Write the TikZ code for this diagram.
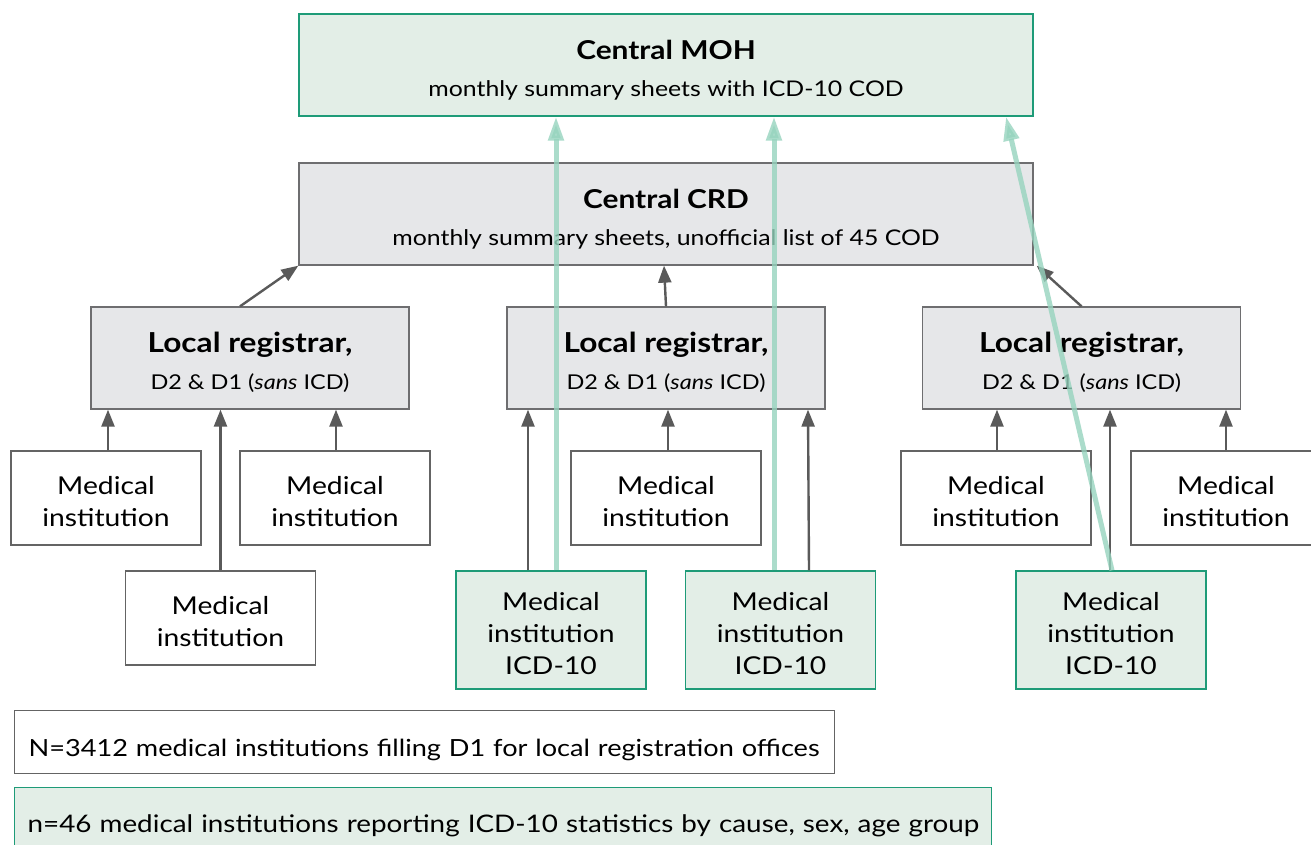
\documentclass[tikz,border=0pt]{standalone}
\usepackage{fontspec}
\setmainfont{Lato}[FakeStretch=1.15]
\usetikzlibrary{arrows.meta,calc}
\definecolor{gfill}{RGB}{227,238,231}
\definecolor{gline}{RGB}{30,155,120}
\definecolor{cfill}{RGB}{230,231,233}
\definecolor{cline}{RGB}{110,110,112}
\definecolor{wline}{RGB}{100,100,100}
\definecolor{arr}{RGB}{90,90,90}
\definecolor{garr}{RGB}{150,212,190}
\newcommand\txtblock[2]{\raisebox{#1}[\height][\depth]{\begin{tabular}{@{}c@{}}#2\end{tabular}}}
\newcommand\txtline[2]{\raisebox{#1}[\height][\depth]{#2}}
\tikzset{
  box/.style={draw, line width=1.3pt, inner sep=0pt, align=center, text=black},
  greenbox/.style={box, draw=gline, fill=gfill},
  graybox/.style={box, draw=cline, fill=cfill},
  whitebox/.style={box, draw=wline, fill=white},
  mi/.style={minimum width=190pt, minimum height=94pt, font=\fontsize{24.6}{32}\selectfont},
  icd/.style={minimum width=190pt, minimum height=118pt, font=\fontsize{24.6}{32}\selectfont},
  bigbox/.style={minimum width=734pt, minimum height=102pt, font=\fontsize{21.6}{37}\selectfont},
  locbox/.style={minimum width=318pt, minimum height=102pt, font=\fontsize{20.4}{37}\selectfont},
  legbox/.style={minimum height=63pt, anchor=north west, align=left, inner xsep=0pt},
  grarrow/.style={draw=arr, line width=2.4pt, -{Triangle[length=17pt,width=13pt]}},
  gnarrow/.style={draw=garr, line width=5pt, opacity=0.8, -{Triangle[length=24pt,width=15pt]}},
}
\begin{document}
\begin{tikzpicture}[x=1pt,y=-1pt]
\useasboundingbox (0,0) rectangle (1311,844);
\fill[white] (0,0) rectangle (1311,844);
% top boxes
\node[greenbox, bigbox] (moh) at (666,65)
  {\txtblock{-6pt}{{\fontsize{26}{37}\selectfont\bfseries Central MOH}\\ monthly summary sheets with ICD-10 COD}};
\node[graybox, bigbox] (crd) at (666,214)
  {\txtblock{-6pt}{{\fontsize{26}{37}\selectfont\bfseries Central CRD}\\ monthly summary sheets, unofficial list of 45 COD}};
% local registrars
\foreach \n/\x in {loc1/250, loc2/666, loc3/1081.5}{
  \node[graybox, locbox] (\n) at (\x,358)
    {\txtblock{-6pt}{{\fontsize{27.5}{37}\selectfont\bfseries Local registrar,}\\ D2 \& D1 (\textit{sans} ICD)}};
}
% medical institutions
\node[whitebox, mi] (m1) at (106,498) {\txtblock{-6pt}{Medical\\institution}};
\node[whitebox, mi] (m2) at (335,498) {\txtblock{-6pt}{Medical\\institution}};
\node[whitebox, mi] (m3) at (220.5,618) {\txtblock{-6pt}{Medical\\institution}};
\node[whitebox, mi] (m4) at (666,498) {\txtblock{-6pt}{Medical\\institution}};
\node[whitebox, mi] (m5) at (996,498) {\txtblock{-6pt}{Medical\\institution}};
\node[whitebox, mi] (m6) at (1226,498) {\txtblock{-6pt}{Medical\\institution}};
\node[greenbox, icd] (i1) at (551,630) {\txtblock{-6pt}{Medical\\institution\\ICD-10}};
\node[greenbox, icd] (i2) at (780.5,630) {\txtblock{-6pt}{Medical\\institution\\ICD-10}};
\node[greenbox, icd] (i3) at (1111,630) {\txtblock{-6pt}{Medical\\institution\\ICD-10}};
% legends
\node[whitebox, legbox, minimum width=820pt, text width=820pt, font=\fontsize{23.6}{28}\selectfont] (leg1) at (14,710)
  {\hspace*{14pt}\txtline{-8pt}{N=3412 medical institutions filling D1 for local registration offices}};
\node[greenbox, legbox, minimum width=977pt, text width=977pt, font=\fontsize{24.2}{28}\selectfont] (leg2) at (14,787)
  {\hspace*{13pt}\txtline{-7pt}{n=46 medical institutions reporting ICD-10 statistics by cause, sex, age group}};
% gray arrows
\draw[grarrow] ([xshift=-10pt]loc1.north) -- (crd.south west);
\draw[grarrow] (loc2.north) -- ([xshift=-2pt]loc2.north |- crd.south);
\draw[grarrow] (loc3.north) -- ([xshift=3pt]crd.south east);
\draw[grarrow] ([xshift=2pt]m1.north) -- ([xshift=2pt]m1.north |- loc1.south);
\draw[grarrow] ([xshift=1pt]m2.north) -- ([xshift=1pt]m2.north |- loc1.south);
\draw[grarrow] (m3.north) -- (m3.north |- loc1.south);
\draw[grarrow] ([xshift=-23pt]i1.north) -- ([xshift=-23pt]i1.north |- loc2.south);
\draw[grarrow] ([xshift=2pt]m4.north) -- ([xshift=2pt]m4.north |- loc2.south);
\draw[grarrow] ([xshift=28.5pt]i2.north) -- ([xshift=27.5pt]i2.north |- loc2.south);
\draw[grarrow] ([xshift=1pt]m5.north) -- ([xshift=1pt]m5.north |- loc3.south);
\draw[grarrow] ([xshift=-1pt]i3.north) -- ([xshift=-1pt]i3.north |- loc3.south);
\draw[grarrow] (m6.north) -- (m6.north |- loc3.south);
% green arrows
\draw[gnarrow] ([xshift=5pt]i1.north) -- ([xshift=5pt]i1.north |- moh.south);
\draw[gnarrow] ([xshift=-6.5pt]i2.north) -- ([xshift=-6.5pt]i2.north |- moh.south);
\draw[gnarrow] ([xshift=1pt]i3.north) -- ([xshift=-105pt]i3.north |- moh.south);
\end{tikzpicture}
\end{document}
